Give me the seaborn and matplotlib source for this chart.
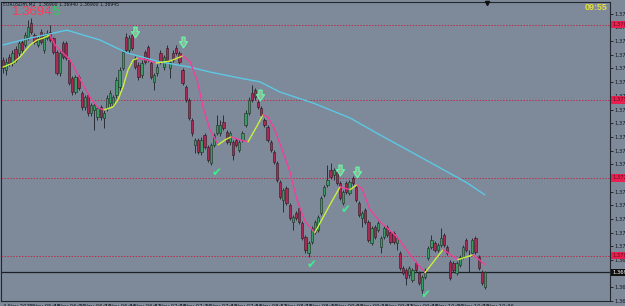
import matplotlib
matplotlib.use("Agg")
import matplotlib.pyplot as plt
import seaborn as sns
import numpy as np
import pandas as pd
from matplotlib.path import Path
from matplotlib.transforms import blended_transform_factory

sns.set_theme(style="white")
plt.rcParams['font.family'] = ['DejaVu Sans']

# ---------------- data (EURUSDm, M2) ----------------
opens = [1.37720, 1.37683, 1.37731, 1.37709, 1.37760, 1.37746, 1.37786, 1.37775, 1.37804, 1.37855,
         1.37811, 1.37775, 1.37822, 1.37757, 1.37800, 1.37822, 1.37800, 1.37749, 1.37673, 1.37782,
         1.37782, 1.37720, 1.37654, 1.37603, 1.37658, 1.37600, 1.37548, 1.37592, 1.37527, 1.37537,
         1.37512, 1.37548, 1.37508, 1.37545, 1.37563, 1.37556, 1.37592, 1.37621, 1.37691, 1.37804,
         1.37757, 1.37811, 1.37727, 1.37702, 1.37665, 1.37749, 1.37767, 1.37709, 1.37640, 1.37673,
         1.37746, 1.37694, 1.37764, 1.37691, 1.37746, 1.37764, 1.37746, 1.37683, 1.37621, 1.37574,
         1.37501, 1.37410, 1.37428, 1.37384, 1.37446, 1.37402, 1.37344, 1.37410, 1.37454, 1.37454,
         1.37494, 1.37457, 1.37421, 1.37421, 1.37428, 1.37392, 1.37428, 1.37483, 1.37527, 1.37600,
         1.37611, 1.37567, 1.37545, 1.37501, 1.37475, 1.37421, 1.37384, 1.37344, 1.37275, 1.37209,
         1.37253, 1.37191, 1.37129, 1.37162, 1.37180, 1.37125, 1.37074, 1.37016, 1.37056, 1.37092,
         1.37099, 1.37162, 1.37227, 1.37264, 1.37318, 1.37300, 1.37311, 1.37271, 1.37198, 1.37271,
         1.37235, 1.37289, 1.37256, 1.37198, 1.37143, 1.37172, 1.37129, 1.37052, 1.37110, 1.37099,
         1.37038, 1.37074, 1.37110, 1.37092, 1.37089, 1.37052, 1.37016, 1.36961, 1.36954, 1.36935,
         1.36917, 1.36979, 1.36943, 1.36880, 1.36928, 1.36997, 1.37038, 1.37052, 1.37027, 1.37045,
         1.37081, 1.37038, 1.36983, 1.36979, 1.36943, 1.36972, 1.37001, 1.37063, 1.37005, 1.37016,
         1.37070, 1.37001, 1.36946, 1.36892]
highs = [1.37731, 1.37727, 1.37742, 1.37757, 1.37771, 1.37793, 1.37793, 1.37822, 1.37866, 1.37873,
         1.37819, 1.37808, 1.37833, 1.37819, 1.37830, 1.37848, 1.37804, 1.37757, 1.37757, 1.37789,
         1.37789, 1.37727, 1.37662, 1.37665, 1.37665, 1.37607, 1.37592, 1.37600, 1.37563, 1.37563,
         1.37552, 1.37556, 1.37537, 1.37592, 1.37611, 1.37592, 1.37658, 1.37694, 1.37757, 1.37819,
         1.37811, 1.37830, 1.37735, 1.37713, 1.37720, 1.37757, 1.37775, 1.37716, 1.37673, 1.37705,
         1.37757, 1.37738, 1.37775, 1.37720, 1.37757, 1.37775, 1.37753, 1.37691, 1.37629, 1.37581,
         1.37508, 1.37435, 1.37435, 1.37439, 1.37454, 1.37410, 1.37417, 1.37454, 1.37519, 1.37501,
         1.37519, 1.37465, 1.37461, 1.37428, 1.37435, 1.37428, 1.37461, 1.37537, 1.37585, 1.37629,
         1.37618, 1.37574, 1.37552, 1.37508, 1.37483, 1.37428, 1.37392, 1.37351, 1.37282, 1.37253,
         1.37260, 1.37198, 1.37154, 1.37169, 1.37187, 1.37132, 1.37081, 1.37059, 1.37114, 1.37136,
         1.37154, 1.37224, 1.37264, 1.37337, 1.37344, 1.37326, 1.37318, 1.37278, 1.37246, 1.37278,
         1.37282, 1.37297, 1.37264, 1.37205, 1.37169, 1.37180, 1.37136, 1.37114, 1.37118, 1.37132,
         1.37078, 1.37114, 1.37118, 1.37099, 1.37096, 1.37078, 1.37023, 1.36968, 1.36961, 1.36968,
         1.36961, 1.36986, 1.36950, 1.36935, 1.36961, 1.37041, 1.37081, 1.37059, 1.37052, 1.37107,
         1.37089, 1.37045, 1.36990, 1.36986, 1.36986, 1.37008, 1.37045, 1.37070, 1.37027, 1.37070,
         1.37078, 1.37008, 1.36954, 1.36950]
lows = [1.37673, 1.37665, 1.37698, 1.37698, 1.37713, 1.37735, 1.37746, 1.37767, 1.37793, 1.37815,
        1.37778, 1.37767, 1.37778, 1.37746, 1.37793, 1.37786, 1.37742, 1.37665, 1.37662, 1.37724,
        1.37720, 1.37629, 1.37592, 1.37596, 1.37611, 1.37537, 1.37537, 1.37516, 1.37516, 1.37465,
        1.37501, 1.37501, 1.37472, 1.37534, 1.37552, 1.37548, 1.37581, 1.37611, 1.37683, 1.37749,
        1.37746, 1.37757, 1.37687, 1.37647, 1.37654, 1.37705, 1.37713, 1.37651, 1.37611, 1.37662,
        1.37705, 1.37683, 1.37713, 1.37654, 1.37713, 1.37738, 1.37705, 1.37629, 1.37567, 1.37501,
        1.37443, 1.37381, 1.37377, 1.37373, 1.37395, 1.37348, 1.37337, 1.37402, 1.37446, 1.37443,
        1.37465, 1.37413, 1.37410, 1.37355, 1.37402, 1.37384, 1.37421, 1.37475, 1.37519, 1.37567,
        1.37574, 1.37541, 1.37512, 1.37475, 1.37421, 1.37384, 1.37341, 1.37275, 1.37213, 1.37165,
        1.37191, 1.37136, 1.37099, 1.37136, 1.37121, 1.37063, 1.37016, 1.37001, 1.37048, 1.37085,
        1.37092, 1.37154, 1.37220, 1.37256, 1.37286, 1.37282, 1.37264, 1.37209, 1.37191, 1.37231,
        1.37227, 1.37264, 1.37202, 1.37147, 1.37110, 1.37121, 1.37056, 1.37045, 1.37067, 1.37092,
        1.37016, 1.37067, 1.37074, 1.37048, 1.37048, 1.37027, 1.36954, 1.36935, 1.36899, 1.36924,
        1.36910, 1.36946, 1.36899, 1.36862, 1.36921, 1.36990, 1.37030, 1.37019, 1.37019, 1.37038,
        1.37038, 1.37008, 1.36917, 1.36946, 1.36935, 1.36964, 1.36994, 1.37019, 1.36946, 1.37008,
        1.37012, 1.36954, 1.36899, 1.36884]
closes = [1.37691, 1.37713, 1.37709, 1.37746, 1.37720, 1.37782, 1.37757, 1.37811, 1.37840, 1.37822,
          1.37786, 1.37800, 1.37786, 1.37811, 1.37819, 1.37793, 1.37749, 1.37673, 1.37746, 1.37731,
          1.37727, 1.37636, 1.37603, 1.37658, 1.37618, 1.37548, 1.37585, 1.37527, 1.37556, 1.37556,
          1.37545, 1.37512, 1.37527, 1.37581, 1.37600, 1.37585, 1.37647, 1.37683, 1.37749, 1.37757,
          1.37800, 1.37764, 1.37694, 1.37658, 1.37709, 1.37713, 1.37720, 1.37658, 1.37665, 1.37694,
          1.37713, 1.37731, 1.37720, 1.37713, 1.37720, 1.37746, 1.37713, 1.37636, 1.37574, 1.37508,
          1.37454, 1.37428, 1.37384, 1.37428, 1.37402, 1.37355, 1.37410, 1.37446, 1.37483, 1.37483,
          1.37472, 1.37421, 1.37454, 1.37373, 1.37410, 1.37421, 1.37454, 1.37527, 1.37574, 1.37574,
          1.37585, 1.37548, 1.37519, 1.37483, 1.37428, 1.37392, 1.37348, 1.37282, 1.37220, 1.37246,
          1.37198, 1.37143, 1.37147, 1.37143, 1.37129, 1.37070, 1.37027, 1.37052, 1.37107, 1.37129,
          1.37147, 1.37216, 1.37256, 1.37282, 1.37293, 1.37318, 1.37271, 1.37216, 1.37238, 1.37238,
          1.37275, 1.37271, 1.37209, 1.37154, 1.37162, 1.37129, 1.37063, 1.37107, 1.37074, 1.37125,
          1.37070, 1.37107, 1.37081, 1.37056, 1.37056, 1.37070, 1.36961, 1.36943, 1.36924, 1.36961,
          1.36954, 1.36954, 1.36906, 1.36928, 1.36954, 1.37034, 1.37063, 1.37027, 1.37045, 1.37070,
          1.37045, 1.37016, 1.36924, 1.36954, 1.36979, 1.37001, 1.37038, 1.37027, 1.37005, 1.37063,
          1.37019, 1.36961, 1.36906, 1.36945]

# slow moving average (cyan), read at bar positions
slow_bar = [0, 8.6, 20.3, 30.8, 39.4, 49.8, 59.4, 65.7, 75.2, 81.6, 87.9, 98.4, 110.2, 119.7,
            128.3, 138.7, 147.3, 153]
slow_val = [1.37776, 1.37801, 1.37830, 1.37794, 1.37747, 1.37714, 1.37695, 1.37677, 1.37655,
            1.37641, 1.37604, 1.37564, 1.37509, 1.37447, 1.37393, 1.37327, 1.37272, 1.37228]

# fast two-colour moving average
fast_bar = [0.0, 3.2, 5.4, 8.6, 10.8, 12.7, 14.9, 16.5, 18.1, 21.3, 23.5, 25.4, 27.6, 30.2, 32.1,
            34.9, 36.5, 38.1, 39.7, 41.3, 42.9, 45.7, 48.6, 53.0, 57.1, 59.4, 61.6, 63.5, 65.7,
            68.3, 70.5, 72.4, 75.2, 77.8, 80.3, 82.5, 84.1, 86.3, 88.6, 91.1, 93.3, 95.9, 99.0,
            103.8, 107.0, 110.2, 112.4, 114.0, 116.5, 119.7, 125.1, 129.2, 134.0, 139.7, 144.4,
            149.2, 153.0]
fast_val = [1.37695, 1.37710, 1.37732, 1.37776, 1.37794, 1.37801, 1.37812, 1.37776, 1.37757,
            1.37721, 1.37674, 1.37630, 1.37586, 1.37546, 1.37539, 1.37549, 1.37575, 1.37622,
            1.37685, 1.37721, 1.37728, 1.37721, 1.37710, 1.37717, 1.37736, 1.37714, 1.37648,
            1.37549, 1.37466, 1.37411, 1.37429, 1.37440, 1.37429, 1.37422, 1.37473, 1.37520,
            1.37513, 1.37466, 1.37393, 1.37312, 1.37210, 1.37130, 1.37090, 1.37192, 1.37257,
            1.37247, 1.37265, 1.37250, 1.37174, 1.37130, 1.37075, 1.37009, 1.36944, 1.37028,
            1.36991, 1.37009, 1.36973]

# signal arrows and check marks
arrow_bar = [41.9, 57.1, 81.6, 107.0, 112.4]
arrow_val = [1.37823, 1.37787, 1.37593, 1.37320, 1.37312]
check_bar = [67.9, 108.6, 98.1, 134.0]
check_val = [1.37309, 1.37173, 1.36973, 1.36863]

# horizontal levels
level_vals = [1.37850, 1.37575, 1.37290, 1.37005]
level_labels = ["1.37850", "1.37575", "1.37290", "1.37005"]
current_price = 1.36945
current_label = "1.36945"

ytick_vals = [1.36840, 1.36890, 1.36940, 1.36990, 1.37040, 1.37090, 1.37140, 1.37190, 1.37240,
              1.37290, 1.37340, 1.37390, 1.37440, 1.37490, 1.37540, 1.37590, 1.37640, 1.37690,
              1.37740, 1.37790, 1.37840, 1.37890]
xtick_bars = [0, 8, 16, 24, 32, 40, 48, 56, 64, 72, 80, 88, 96, 104, 112, 120, 128, 136, 144, 152]
xtick_labels = ["4 Nov 2013", "4 Nov 05:48", "4 Nov 06:04", "4 Nov 06:20", "4 Nov 06:36",
                "4 Nov 06:52", "4 Nov 07:08", "4 Nov 07:24", "4 Nov 07:40", "4 Nov 07:56",
                "4 Nov 08:12", "4 Nov 08:28", "4 Nov 08:44", "4 Nov 09:00", "4 Nov 09:16",
                "4 Nov 09:32", "4 Nov 09:48", "4 Nov 10:04", "4 Nov 10:20", "4 Nov 10:36"]

header_text = "EURUSDm,M2  1.36900 1.36940 1.36900 1.36945"
bid_main = "1.3694"
bid_last = "5"
clock_text = "09:55"

# ---------------- figure ----------------
BG = "#7e8a9a"
W, H = 625, 306
fig = plt.figure(figsize=(W / 100, H / 100), dpi=100, facecolor=BG)
ax = fig.add_axes([1 / W, 5 / H, 609 / W, 299 / H])
ax.set_facecolor(BG)

df = pd.DataFrame({"bar": np.arange(len(opens)), "open": opens, "high": highs,
                   "low": lows, "close": closes})
diff = df["close"] - df["open"]
bull = diff > 1e-9
bear = diff < -1e-9
doji = ~(bull | bear)

# wicks
ax.vlines(df["bar"], df["low"], df["high"], color="#2a2f37", lw=0.7, zorder=2)
# bodies
ax.bar(df["bar"][bull], diff[bull], bottom=df["open"][bull], width=0.72,
       color="#3c9a64", edgecolor="#1d2a22", linewidth=0.4, zorder=3)
ax.bar(df["bar"][bear], -diff[bear], bottom=df["close"][bear], width=0.72,
       color="#ab2a55", edgecolor="#2a1a20", linewidth=0.4, zorder=3)
ax.hlines(df["close"][doji], df["bar"][doji] - 0.4, df["bar"][doji] + 0.4,
          color="#c0c6cc", lw=0.8, zorder=3)

# horizontal levels
for v in level_vals:
    ax.axhline(v, color="#b8304f", ls=(0, (1.5, 1.5)), lw=0.7, zorder=1)
ax.axhline(current_price, color="#1b1f26", lw=0.9, zorder=1.5)

# moving averages
sns.lineplot(x=slow_bar, y=slow_val, color="#5cc8e4", lw=1.0, ax=ax, zorder=4)

runs = []
start = 0
for i in range(1, len(fast_val) - 1):
    up_prev = fast_val[i] > fast_val[i - 1]
    up_next = fast_val[i + 1] > fast_val[i]
    if up_prev != up_next:
        runs.append((start, i, up_prev))
        start = i
runs.append((start, len(fast_val) - 1, fast_val[-1] > fast_val[-2]))
for s, e, up in runs:
    sns.lineplot(x=fast_bar[s:e + 1], y=fast_val[s:e + 1],
                 color="#c8f03c" if up else "#f0409c", lw=1.0, ax=ax, zorder=5)

# arrows
arrow_path = Path([(-0.3, 1.0), (0.3, 1.0), (0.3, 0.15), (0.75, 0.15), (0.0, -1.0),
                   (-0.75, 0.15), (-0.3, 0.15), (-0.3, 1.0)], closed=True)
ax.scatter(arrow_bar, arrow_val, marker=arrow_path, s=60, facecolor="#8fb8a2",
           edgecolor="#66fca4", linewidth=0.8, zorder=7)
for b, v in zip(check_bar, check_val):
    ax.text(b, v, "\u2714", color="#3cf08c", fontsize=8.5, ha="center", va="center", zorder=7)

# axes limits / ticks
ax.set_xlim(-0.63, 192.7)
ax.set_ylim(1.36841, 1.37933)
ax.yaxis.tick_right()
ax.set_yticks(ytick_vals)
ax.set_yticklabels([f"{t:.5f}" for t in ytick_vals])
ax.tick_params(axis="y", direction="out", length=2, width=0.6, colors="#15181d",
               labelsize=3.8, pad=1)
ax.set_xticks(xtick_bars)
ax.set_xticklabels(xtick_labels, ha="left")
ax.tick_params(axis="x", direction="out", length=2, width=0.6, colors="#15181d",
               labelsize=3.8, pad=0.5)
ax.set_xlabel("")
ax.set_ylabel("")
for sp in ax.spines.values():
    sp.set_color("#22262d")
    sp.set_linewidth(0.8)

# right-axis price labels
tr = blended_transform_factory(ax.transAxes, ax.transData)
for v, lab in zip(level_vals, level_labels):
    ax.text(1.004, v, lab, transform=tr, fontsize=3.8, color="#5a0a1a", va="center",
            ha="left", clip_on=False, zorder=8,
            bbox=dict(facecolor="#e8204f", edgecolor="none", pad=0.8))
ax.text(1.004, current_price, current_label, transform=tr, fontsize=3.8, color="#ffffff",
        va="center", ha="left", clip_on=False, zorder=8,
        bbox=dict(facecolor="#101010", edgecolor="none", pad=0.8))

# shift marker on the top border
trx = blended_transform_factory(ax.transData, ax.transAxes)
ax.plot([153.7], [0.995], marker="v", color="#101010", ms=3, transform=trx, clip_on=False,
        zorder=9)

# header texts
fig.text(3 / W, 1 - 2 / H, header_text, fontsize=3.3, color="#101418", va="top", ha="left")
t1 = fig.text(12 / W, 1 - 6 / H, bid_main, fontsize=9.5, color="#ff3a55", va="top", ha="left",
              family=["Liberation Sans", "DejaVu Sans"])
fig.canvas.draw()
bb = t1.get_window_extent()
fig.text(bb.x1 / W, 1 - 6 / H, bid_last, fontsize=9.5, color="#36c85a", va="top", ha="left",
         family=["Liberation Sans", "DejaVu Sans"])
fig.text(607 / W, 1 - 3 / H, clock_text, fontsize=6.5, color="#e8e040", fontweight="bold",
         va="top", ha="right", family=["Liberation Sans", "DejaVu Sans"])

fig.savefig("out.png", dpi=100, facecolor=BG)
